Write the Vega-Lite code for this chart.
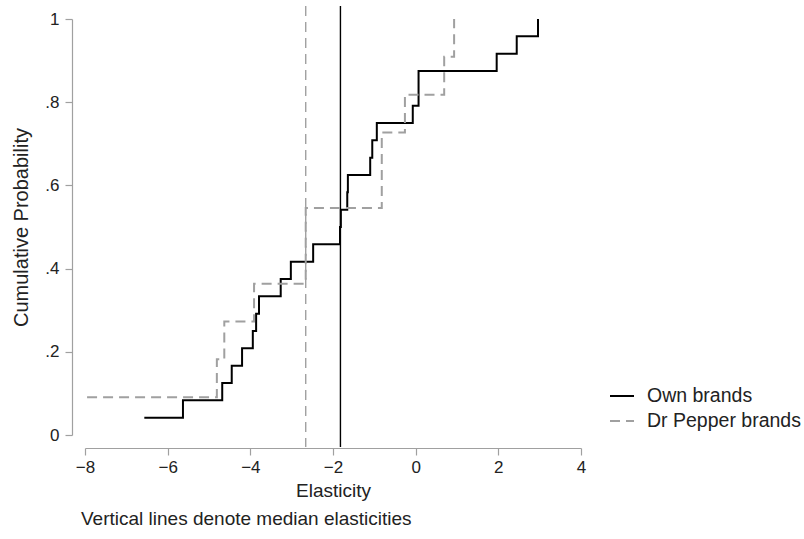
{
  "$schema": "https://vega.github.io/schema/vega-lite/v6.json",
  "width": 496,
  "height": 416,
  "autosize": {"type": "none"},
  "padding": {"left": 85, "top": 19, "right": 223, "bottom": 104},
  "background": "white",
  "config": {
    "view": {"stroke": null},
    "font": "Liberation Sans",
    "axis": {
      "grid": false,
      "domainColor": "#a0a0a0",
      "tickColor": "#a0a0a0",
      "domainWidth": 1.2,
      "tickWidth": 1.2,
      "labelColor": "#222222",
      "titleColor": "#222222",
      "labelFontSize": 17,
      "titleFontSize": 19,
      "titleFontWeight": "normal",
      "tickSize": 7,
      "labelFlush": false,
      "labelOverlap": false
    },
    "legend": {
      "orient": "none",
      "legendX": 524,
      "legendY": 364,
      "symbolType": "stroke",
      "symbolSize": 576,
      "symbolStrokeWidth": 2,
      "labelFontSize": 19.5,
      "labelColor": "#222222",
      "labelOffset": 12,
      "padding": 0,
      "rowPadding": 2
    }
  },
  "datasets": {
    "ecdf": [
      {"group": "Own brands", "elasticity": -6.565, "cdf": 0.0417},
      {"group": "Own brands", "elasticity": -5.63, "cdf": 0.0833},
      {"group": "Own brands", "elasticity": -4.68, "cdf": 0.125},
      {"group": "Own brands", "elasticity": -4.45, "cdf": 0.1667},
      {"group": "Own brands", "elasticity": -4.2, "cdf": 0.2083},
      {"group": "Own brands", "elasticity": -3.94, "cdf": 0.25},
      {"group": "Own brands", "elasticity": -3.86, "cdf": 0.2917},
      {"group": "Own brands", "elasticity": -3.79, "cdf": 0.3333},
      {"group": "Own brands", "elasticity": -3.265, "cdf": 0.375},
      {"group": "Own brands", "elasticity": -3.02, "cdf": 0.4167},
      {"group": "Own brands", "elasticity": -2.48, "cdf": 0.4583},
      {"group": "Own brands", "elasticity": -1.83, "cdf": 0.5},
      {"group": "Own brands", "elasticity": -1.81, "cdf": 0.5417},
      {"group": "Own brands", "elasticity": -1.655, "cdf": 0.5833},
      {"group": "Own brands", "elasticity": -1.64, "cdf": 0.625},
      {"group": "Own brands", "elasticity": -1.1, "cdf": 0.6667},
      {"group": "Own brands", "elasticity": -1.05, "cdf": 0.7083},
      {"group": "Own brands", "elasticity": -0.94, "cdf": 0.75},
      {"group": "Own brands", "elasticity": -0.07, "cdf": 0.7917},
      {"group": "Own brands", "elasticity": 0.07, "cdf": 0.8333},
      {"group": "Own brands", "elasticity": 0.07, "cdf": 0.875},
      {"group": "Own brands", "elasticity": 1.96, "cdf": 0.9167},
      {"group": "Own brands", "elasticity": 2.445, "cdf": 0.9583},
      {"group": "Own brands", "elasticity": 2.96, "cdf": 1.0},
      {"group": "Dr Pepper brands", "elasticity": -7.95, "cdf": 0.0909},
      {"group": "Dr Pepper brands", "elasticity": -4.81, "cdf": 0.1818},
      {"group": "Dr Pepper brands", "elasticity": -4.63, "cdf": 0.2727},
      {"group": "Dr Pepper brands", "elasticity": -3.91, "cdf": 0.3636},
      {"group": "Dr Pepper brands", "elasticity": -2.66, "cdf": 0.4545},
      {"group": "Dr Pepper brands", "elasticity": -2.66, "cdf": 0.5455},
      {"group": "Dr Pepper brands", "elasticity": -0.82, "cdf": 0.6364},
      {"group": "Dr Pepper brands", "elasticity": -0.82, "cdf": 0.7273},
      {"group": "Dr Pepper brands", "elasticity": -0.26, "cdf": 0.8182},
      {"group": "Dr Pepper brands", "elasticity": 0.69, "cdf": 0.9091},
      {"group": "Dr Pepper brands", "elasticity": 0.93, "cdf": 1.0}
    ],
    "medians": [
      {"group": "Own brands", "elasticity": -1.82},
      {"group": "Dr Pepper brands", "elasticity": -2.66}
    ]
  },
  "title": {
    "text": "Vertical lines denote median elasticities",
    "orient": "bottom",
    "anchor": "start",
    "frame": "group",
    "fontSize": 19,
    "fontWeight": "normal",
    "color": "#222222",
    "dx": -4,
    "offset": 10
  },
  "layer": [
    {
      "data": {"name": "medians"},
      "mark": {"type": "rule", "strokeWidth": 1.4, "clip": false},
      "encoding": {
        "x": {"field": "elasticity", "type": "quantitative", "scale": {"domain": [-8, 4], "nice": false, "zero": false}},
        "y": {"datum": 1.031, "type": "quantitative"},
        "y2": {"datum": -0.029},
        "color": {"field": "group", "type": "nominal", "title": null, "scale": {"domain": ["Own brands", "Dr Pepper brands"], "range": ["#000000", "#a0a0a0"]}},
        "strokeDash": {"field": "group", "type": "nominal", "title": null, "scale": {"domain": ["Own brands", "Dr Pepper brands"], "range": [[1, 0], [10, 6]]}}
      }
    },
    {
      "data": {"name": "ecdf"},
      "mark": {"type": "line", "interpolate": "step-after", "strokeWidth": 2},
      "encoding": {
        "x": {
          "field": "elasticity", "type": "quantitative",
          "scale": {"domain": [-8, 4], "nice": false, "zero": false},
          "axis": {"title": "Elasticity", "values": [-8, -6, -4, -2, 0, 2, 4], "offset": 13, "labelPadding": 4, "titlePadding": 6}
        },
        "y": {
          "field": "cdf", "type": "quantitative",
          "scale": {"domain": [0, 1], "nice": false},
          "axis": {"title": "Cumulative Probability", "titleFontSize": 20, "values": [0, 0.2, 0.4, 0.6, 0.8, 1], "offset": 13, "labelPadding": 6, "titlePadding": 13,
                   "labelExpr": "datum.value == 0 ? '0' : datum.value == 1 ? '1' : '.' + format(datum.value * 10, 'd')"}
        },
        "order": {"field": "cdf", "type": "quantitative"},
        "color": {
          "field": "group", "type": "nominal", "title": null,
          "scale": {"domain": ["Own brands", "Dr Pepper brands"], "range": ["#000000", "#a0a0a0"]}
        },
        "strokeDash": {
          "field": "group", "type": "nominal", "title": null,
          "scale": {"domain": ["Own brands", "Dr Pepper brands"], "range": [[1, 0], [10, 6]]}
        }
      }
    }
  ]
}
